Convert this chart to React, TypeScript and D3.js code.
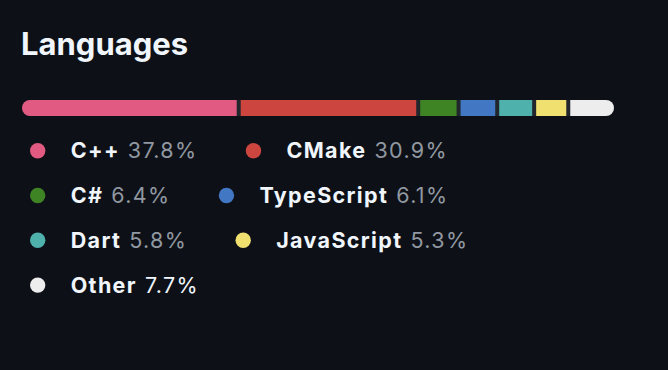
import React, { useEffect, useRef } from 'react';
import * as d3 from 'd3';

const languages = ['C++', 'CMake', 'C#', 'TypeScript', 'Dart', 'JavaScript', 'Other'];
const shares = [37.8, 30.9, 6.4, 6.1, 5.8, 5.3, 7.7];
const colors = ['#e05a81', '#cc463f', '#3e8424', '#4277c4', '#4fb1ac', '#f0e06f', '#ededed'];

const BG = '#0d1117';
const FG = '#f0f6fc';
const MUTED = '#9198a1';
const FONT = 'Inter, "Liberation Sans", sans-serif';

const App: React.FC = () => {
  const svgRef = useRef<SVGSVGElement>(null);

  useEffect(() => {
    document.body.style.margin = '0';
    document.body.style.background = BG;
    if (!svgRef.current) return;

    const width = 668;
    const height = 370;
    const barX = 22;
    const barY = 100;
    const barH = 16;
    const barW = 592;
    const gap = 4;

    const svg = d3.select(svgRef.current);
    svg.selectAll('*').remove();

    svg.append('rect').attr('width', width).attr('height', height).attr('fill', BG);

    // Title
    svg.append('text')
      .attr('x', 21)
      .attr('y', 55)
      .style('font-family', FONT)
      .style('font-size', '31px')
      .style('font-weight', 700)
      .style('fill', FG)
      .text('Languages');

    // Stacked bar: segments shrink to leave room for the gaps (like flex-shrink)
    const x = d3.scaleLinear().domain([0, 100]).range([0, barW - gap * (shares.length - 1)]);
    const cum = d3.cumsum(shares);

    svg.append('clipPath').attr('id', 'bar-clip')
      .append('rect')
      .attr('x', barX).attr('y', barY)
      .attr('width', barW).attr('height', barH)
      .attr('rx', barH / 2);

    const bar = svg.append('g').attr('clip-path', 'url(#bar-clip)');
    bar.append('rect')
      .attr('x', barX).attr('y', barY)
      .attr('width', barW).attr('height', barH)
      .attr('fill', '#21262d');

    bar.selectAll('rect.seg')
      .data(shares)
      .join('rect')
      .attr('class', 'seg')
      .attr('x', (d, i) => barX + x(cum[i] - d) + i * gap)
      .attr('y', barY)
      .attr('width', d => x(d))
      .attr('height', barH)
      .attr('fill', (d, i) => colors[i]);

    // Legend, two per row
    const rowY0 = 150.7;
    const rowStep = 44.8;
    const ends: number[] = [];
    languages.forEach((lang, i) => {
      const row = Math.floor(i / 2);
      const cy = rowY0 + row * rowStep;
      const cx = i % 2 === 1 ? ends[i - 1] + 56 : 37.7;
      const g = svg.append('g');
      g.append('circle').attr('cx', cx).attr('cy', cy).attr('r', 7.7).attr('fill', colors[i]);
      const name = g.append('text')
        .attr('x', cx + 33)
        .attr('y', cy + 7.4)
        .style('font-family', FONT)
        .style('font-size', '21.5px')
        .style('letter-spacing', '1.35px')
        .style('font-weight', 700)
        .style('fill', FG)
        .text(lang);
      const nw = (name.node() as SVGTextElement).getComputedTextLength();
      const pct = g.append('text')
        .attr('x', cx + 33 + nw + 8)
        .attr('y', cy + 7.4)
        .style('font-family', FONT)
        .style('font-size', '21.5px')
        .style('letter-spacing', '1.35px')
        .style('fill', lang === 'Other' ? FG : MUTED)
        .text(`${shares[i]}%`);
      ends[i] = cx + 33 + nw + 8 + (pct.node() as SVGTextElement).getComputedTextLength();
    });
  }, []);

  return <svg ref={svgRef} width={668} height={370} style={{ display: 'block' }} />;
};

export default App;
